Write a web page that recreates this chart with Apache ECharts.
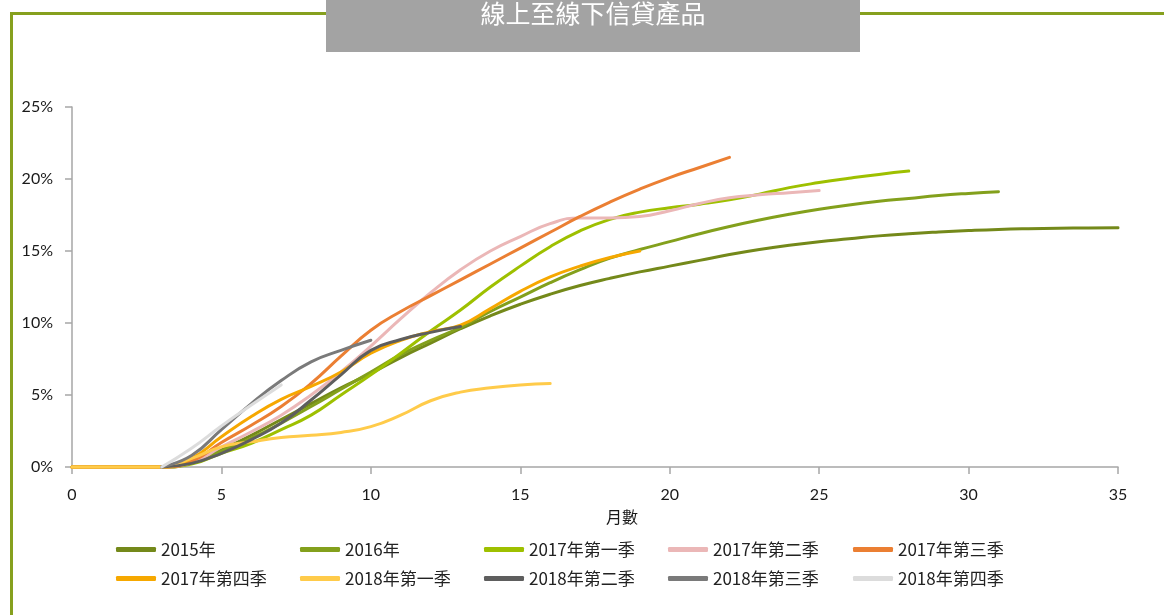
<!DOCTYPE html>
<html>
<head>
<meta charset="utf-8">
<script src="https://cdn.jsdelivr.net/npm/echarts@6/dist/echarts.min.js"></script>
<style>
html,body{margin:0;padding:0;background:#fff;}
#c{width:1164px;height:615px;}
</style>
</head>
<body>
<div id="c"></div>
<script>
// ---- data (months since origination, cumulative %) ----
var months = [];
for (var i = 0; i <= 35; i++) months.push(i);
var seriesNames = ['2015年','2016年','2017年第一季','2017年第二季','2017年第三季','2017年第四季','2018年第一季','2018年第二季','2018年第三季','2018年第四季'];
var s2015 = [0,0,0,0,0.3,1.2,2.2,3.3,4.4,5.5,6.5,7.6,8.6,9.6,10.5,11.3,12.0,12.6,13.1,13.55,13.95,14.35,14.75,15.1,15.4,15.65,15.85,16.05,16.2,16.32,16.42,16.5,16.55,16.58,16.6,16.62];
var s2016 = [0,0,0,0,0.3,1.1,2.0,3.05,4.2,5.4,6.6,7.8,8.8,9.7,10.8,11.8,12.8,13.7,14.5,15.1,15.65,16.2,16.7,17.15,17.55,17.9,18.2,18.45,18.65,18.85,19.0,19.12];
var s2017q1 = [0,0,0,0,0.2,0.95,1.65,2.6,3.6,5.0,6.4,7.9,9.45,10.9,12.5,13.95,15.3,16.4,17.2,17.7,18.0,18.25,18.55,18.95,19.4,19.75,20.05,20.32,20.55];
var s2017q2 = [0,0,0,0,0.3,1.4,2.45,3.6,5.0,6.6,8.4,10.3,12.1,13.7,15.0,16.0,16.9,17.3,17.3,17.4,17.8,18.3,18.7,18.9,19.05,19.2];
var s2017q3 = [0,0,0,0,0.4,1.7,2.9,4.2,5.8,7.7,9.5,10.8,11.9,13.0,14.1,15.2,16.3,17.4,18.4,19.3,20.1,20.8,21.5];
var s2017q4 = [0,0,0,0,0.6,2.1,3.5,4.7,5.6,6.6,7.9,8.8,9.4,9.85,11.0,12.2,13.2,13.95,14.55,15.0];
var s2018q1 = [0,0,0,0,0.6,1.4,1.75,2.05,2.2,2.4,2.8,3.6,4.6,5.2,5.5,5.7,5.8];
var s2018q2 = [null,null,null,0,0.25,0.95,1.9,3.05,4.65,6.4,8.1,8.85,9.35,9.75];
var s2018q3 = [null,null,null,0,0.8,2.6,4.4,6.0,7.3,8.1,8.8];
var s2018q4 = [null,null,null,0,1.3,2.85,4.3,5.7];
var xTicks = [0,5,10,15,20,25,30,35];

var allValues = [s2015,s2016,s2017q1,s2017q2,s2017q3,s2017q4,s2018q1,s2018q2,s2018q3,s2018q4];
var colors = ['#74891A','#83A01C','#9EC000','#EBB7B7','#EB7F33','#F6A800','#FFCB4A','#5E5E5E','#7A7A7A','#DCDCDC'];

function toPairs(arr){
  var out = [];
  for (var i = 0; i < arr.length; i++) if (arr[i] !== null) out.push([months[i], arr[i]]);
  return out;
}

var series = seriesNames.map(function(n, k){
  return {
    name: n, type: 'line', data: toPairs(allValues[k]),
    smooth: 0.5, showSymbol: false, symbol: 'none',
    lineStyle: {width: 3, color: colors[k], cap: 'round'},
    itemStyle: {color: colors[k]},
    clip: false, z: 2 + k
  };
});

var legendCols = [111, 295, 479, 663, 848];
var legendRows = [536, 565];
var legends = seriesNames.map(function(n, k){
  return {
    data: [n],
    left: legendCols[k % 5], top: legendRows[Math.floor(k / 5)],
    icon: 'roundRect', itemWidth: 40, itemHeight: 5, itemGap: 0,
    textStyle: {fontFamily: '"Liberation Sans Narrow","Noto Sans CJK TC",sans-serif', fontSize: 17, color: '#222'},
    selectedMode: false
  };
});

var chart = echarts.init(document.getElementById('c'), null, {renderer: 'canvas'});
chart.setOption({
  animation: false,
  backgroundColor: '#fff',
  color: colors,
  grid: {left: 72, right: 46, top: 107, bottom: 148, containLabel: false},
  xAxis: {
    type: 'value', min: 0, max: 35, interval: 5,
    axisLine: {show: true, lineStyle: {color: '#A6A6A6', width: 1.5}},
    axisTick: {show: true, length: 7, lineStyle: {color: '#A6A6A6', width: 1.5}},
    axisLabel: {margin: 20, color: '#1a1a1a', fontSize: 16, fontFamily: 'Lato, "Liberation Sans", sans-serif',
      customValues: xTicks},
    splitLine: {show: false}
  },
  yAxis: {
    type: 'value', min: 0, max: 25, interval: 5,
    axisLine: {show: true, lineStyle: {color: '#A6A6A6', width: 1.5}},
    axisTick: {show: true, inside: false, length: 7, lineStyle: {color: '#A6A6A6', width: 1.5}},
    axisLabel: {margin: 19, color: '#1a1a1a', fontSize: 16, fontFamily: 'Lato, "Liberation Sans", sans-serif',
      formatter: '{value}%'},
    splitLine: {show: false}
  },
  legend: legends,
  series: series,
  graphic: [
    {type: 'rect', shape: {x: 10, y: 12, width: 316, height: 3}, style: {fill: '#86A01E'}, silent: true},
    {type: 'rect', shape: {x: 860, y: 12, width: 304, height: 3}, style: {fill: '#86A01E'}, silent: true},
    {type: 'rect', shape: {x: 10, y: 12, width: 3, height: 603}, style: {fill: '#86A01E'}, silent: true},
    {type: 'rect', shape: {x: 326, y: 0, width: 534, height: 52}, style: {fill: '#A3A3A3'}, silent: true},
    {type: 'text', x: 593, y: 13, style: {text: '線上至線下信貸產品', fill: '#fff', fontSize: 25,
      fontFamily: '"Noto Sans CJK TC", sans-serif', textAlign: 'center', textVerticalAlign: 'middle'}, silent: true},
    {type: 'text', x: 622, y: 517, style: {text: '月數', fill: '#1a1a1a', fontSize: 16,
      fontFamily: '"Noto Sans CJK TC", sans-serif', textAlign: 'center', textVerticalAlign: 'middle'}, silent: true}
  ]
});
</script>
</body>
</html>
